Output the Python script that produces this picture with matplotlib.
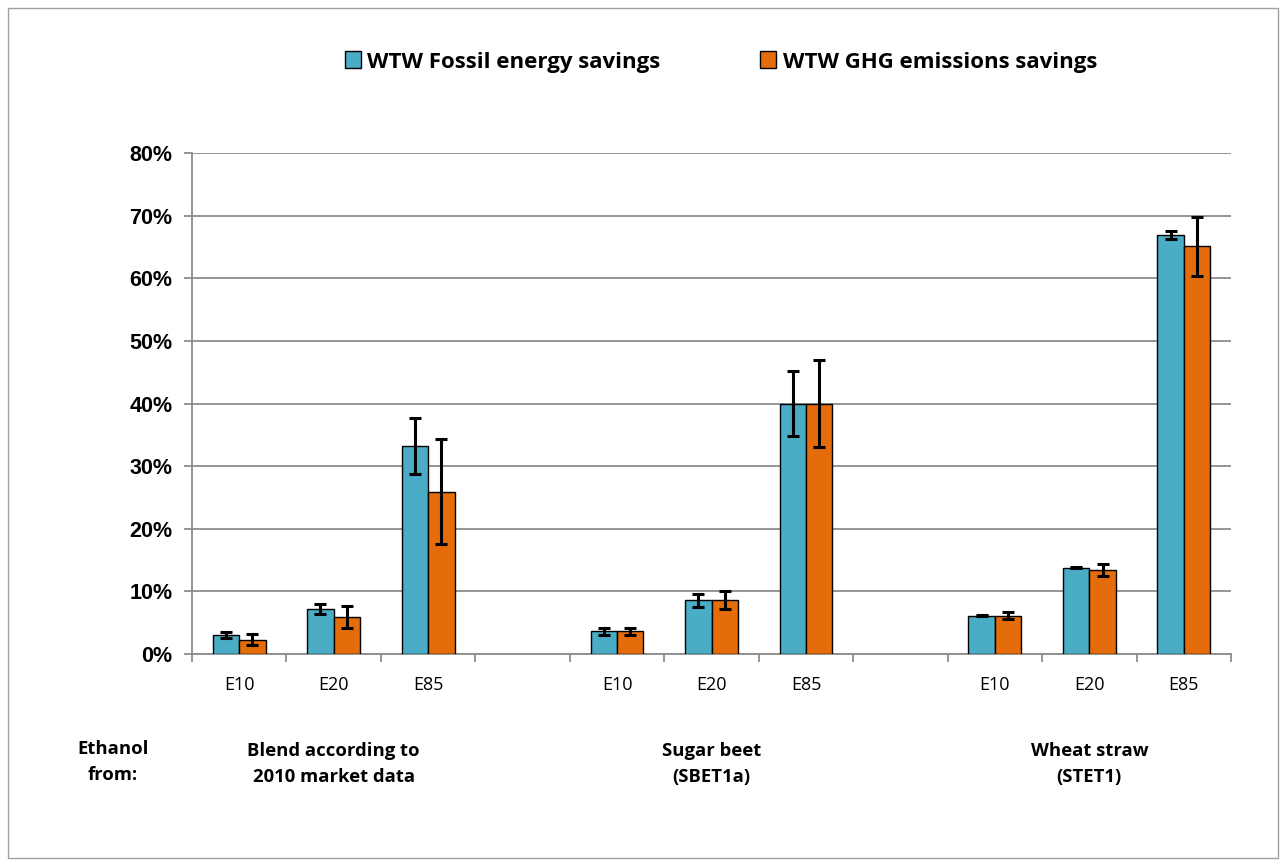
"""
WTW fossil energy and GHG savings of ethanol blends
"""

import numpy as np
import matplotlib
matplotlib.use("Agg")
import matplotlib.pyplot as plt
from matplotlib.patches import Rectangle, Patch
from matplotlib.ticker import FixedLocator, PercentFormatter

# data (percent), empty slot between groups -> None
slot_labels = ['E10', 'E20', 'E85', '', 'E10', 'E20', 'E85', '', 'E10', 'E20', 'E85']
fossil = [3.0, 7.2, 33.2, None, 3.6, 8.6, 40.0, None, 6.1, 13.8, 66.9]
fossil_err = [0.5, 0.85, 4.5, None, 0.6, 1.05, 5.2, None, 0.05, 0.1, 0.7]
ghg = [2.3, 5.9, 25.9, None, 3.6, 8.6, 40.0, None, 6.1, 13.4, 65.1]
ghg_err = [0.85, 1.7, 8.4, None, 0.6, 1.4, 6.9, None, 0.55, 0.95, 4.7]
group_labels = ['Blend according to\n2010 market data', 'Sugar beet\n(SBET1a)', 'Wheat straw\n(STET1)']
group_slots = [1, 5, 9]
series_names = ['WTW Fossil energy savings', 'WTW GHG emissions savings']

CYAN = '#4BACC6'
ORANGE = '#E46C0A'
GRID = '#8c8c8c'

fig = plt.figure(figsize=(12.85, 8.68), dpi=100)
ax = fig.add_axes([192 / 1285, 1 - 654 / 868, 1039 / 1285, 501 / 868])

# outer frame of the chart area
fig.patches.append(Rectangle((8 / 1285, 10 / 868), 1270 / 1285, 850 / 868,
                             transform=fig.transFigure, fill=False,
                             edgecolor='#a0a0a0', linewidth=1))

x = np.arange(len(slot_labels))
idx = [i for i, v in enumerate(fossil) if v is not None]
w = 0.28

ax.bar(x[idx] - w / 2, [fossil[i] for i in idx], w, color=CYAN,
       edgecolor='black', linewidth=1, zorder=3)
ax.bar(x[idx] + w / 2, [ghg[i] for i in idx], w, color=ORANGE,
       edgecolor='black', linewidth=1, zorder=3)
ax.errorbar(x[idx] - w / 2, [fossil[i] for i in idx], yerr=[fossil_err[i] for i in idx],
            fmt='none', ecolor='black', elinewidth=2.2, capsize=4.5, capthick=2.2, zorder=4)
ax.errorbar(x[idx] + w / 2, [ghg[i] for i in idx], yerr=[ghg_err[i] for i in idx],
            fmt='none', ecolor='black', elinewidth=2.2, capsize=4.5, capthick=2.2, zorder=4)

ax.set_xlim(-0.5, len(slot_labels) - 0.5)
ax.set_ylim(0, 80)
ax.set_yticks(np.arange(0, 81, 10))
ax.yaxis.set_major_formatter(PercentFormatter(decimals=0))
ax.grid(axis='y', color=GRID, linewidth=1.3, zorder=0)

# category ticks at slot boundaries, labels centred in slots
ax.xaxis.set_major_locator(FixedLocator(np.arange(-0.5, len(slot_labels), 1)))
ax.set_xticklabels([])
ax.set_xticks(x, minor=True)
ax.set_xticklabels(slot_labels, minor=True, fontsize=13, family='Open Sans')
ax.tick_params(axis='x', which='minor', length=0, pad=16)
ax.tick_params(axis='x', which='major', length=6, color=GRID, width=1.3)
ax.tick_params(axis='y', length=6, color=GRID, width=1.3, pad=8)
for lab in ax.get_yticklabels():
    lab.set_fontsize(15.5)
    lab.set_fontweight('bold')
    lab.set_family('Liberation Sans')

for s in ['top', 'right']:
    ax.spines[s].set_visible(False)
for s in ['left', 'bottom']:
    ax.spines[s].set_color(GRID)
    ax.spines[s].set_linewidth(1.3)

# group labels under the axis
trans = ax.get_xaxis_transform()
for slot, lab in zip(group_slots, group_labels):
    ax.text(slot, -0.175, lab, transform=trans, ha='center', va='top',
            fontsize=13.3, fontweight='bold', family='Open Sans', linespacing=1.6)
fig.text(113 / 1285, 1 - 740 / 868, 'Ethanol\nfrom:', ha='center', va='top',
         fontsize=13.3, fontweight='bold', family='Open Sans', linespacing=1.6)

handles = [Patch(facecolor=CYAN, edgecolor='black'), Patch(facecolor=ORANGE, edgecolor='black')]
fig.legend(handles, series_names, loc='center', bbox_to_anchor=(721 / 1285, 1 - 62 / 868),
           ncol=2, frameon=False, handlelength=0.7, handleheight=0.8, handletextpad=0.3,
           columnspacing=4.5, prop={'family': 'Open Sans', 'weight': 'bold', 'size': 16})

fig.savefig('out.png', dpi=100)
